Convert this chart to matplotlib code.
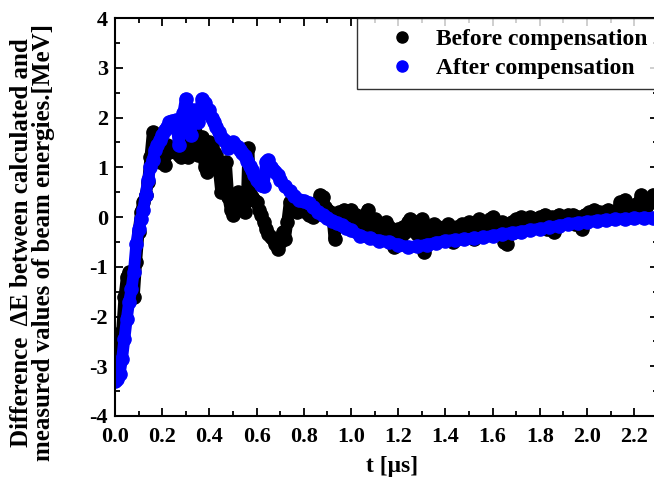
import matplotlib
matplotlib.use('Agg')
import matplotlib.pyplot as plt
from matplotlib.lines import Line2D
from matplotlib.ticker import MultipleLocator

# datos: t en microsegundos, dE en MeV
t_after = [0.00, 0.01, 0.02, 0.03, 0.04, 0.05, 0.06, 0.07, 0.08, 0.09,
           0.10, 0.11, 0.12, 0.13, 0.14, 0.15, 0.16, 0.17, 0.18, 0.19,
           0.20, 0.21, 0.22, 0.23, 0.24, 0.25, 0.26, 0.27, 0.28, 0.29,
           0.30, 0.31, 0.32, 0.33, 0.34, 0.35, 0.36, 0.37, 0.38, 0.39,
           0.40, 0.41, 0.42, 0.43, 0.44, 0.45, 0.46, 0.47, 0.48, 0.49,
           0.50, 0.51, 0.52, 0.53, 0.54, 0.55, 0.56, 0.57, 0.58, 0.59,
           0.60, 0.61, 0.62, 0.63, 0.64, 0.65, 0.66, 0.67, 0.68, 0.69,
           0.70, 0.72, 0.74, 0.76, 0.78, 0.80, 0.82, 0.84, 0.86, 0.88,
           0.90, 0.92, 0.94, 0.96, 0.98, 1.00, 1.04, 1.08, 1.12, 1.16,
           1.20, 1.24, 1.28, 1.32, 1.36, 1.40, 1.44, 1.48, 1.52, 1.56,
           1.60, 1.64, 1.68, 1.72, 1.76, 1.80, 1.84, 1.88, 1.92, 1.96,
           2.00, 2.04, 2.08, 2.12, 2.16, 2.20, 2.24, 2.28, 2.30]
dE_after = [-3.30, -3.25, -3.15, -2.85, -2.45, -2.05, -1.70, -1.45, -1.10, -0.55,
            -0.25, -0.05, 0.15, 0.45, 0.75, 1.00, 1.15, 1.35, 1.45, 1.55,
            1.65, 1.75, 1.80, 1.90, 1.92, 1.80, 1.95, 1.45, 1.95, 2.10,
            2.38, 2.15, 1.65, 2.15, 2.10, 1.90, 2.15, 2.38, 2.30, 2.10,
            2.15, 2.00, 1.90, 1.80, 1.70, 1.60, 1.55, 1.50, 1.38, 1.45,
            1.50, 1.45, 1.40, 1.35, 1.28, 1.22, 1.12, 1.02, 0.95, 0.85,
            0.75, 0.70, 0.65, 0.62, 1.10, 1.15, 1.00, 0.95, 0.90, 0.85,
            0.75, 0.62, 0.52, 0.42, 0.35, 0.33, 0.28, 0.20, 0.10, 0.04,
            -0.02, -0.08, -0.12, -0.17, -0.22, -0.27, -0.38, -0.43, -0.48, -0.50,
            -0.56, -0.60, -0.59, -0.56, -0.52, -0.48, -0.46, -0.45, -0.43, -0.41,
            -0.38, -0.35, -0.32, -0.30, -0.26, -0.24, -0.21, -0.18, -0.14, -0.12,
            -0.10, -0.08, -0.06, -0.05, -0.04, -0.03, -0.02, -0.02, -0.02]

t_before = [0.00, 0.01, 0.02, 0.03, 0.04, 0.05, 0.06, 0.07, 0.08, 0.09,
            0.10, 0.11, 0.12, 0.13, 0.14, 0.15, 0.16, 0.17, 0.18, 0.19,
            0.20, 0.21, 0.22, 0.23, 0.24, 0.25, 0.26, 0.27, 0.28, 0.29,
            0.30, 0.31, 0.32, 0.33, 0.34, 0.35, 0.36, 0.37, 0.38, 0.39,
            0.40, 0.41, 0.42, 0.43, 0.44, 0.45, 0.46, 0.47, 0.48, 0.49,
            0.50, 0.51, 0.52, 0.53, 0.54, 0.55, 0.56, 0.565, 0.57, 0.58,
            0.59, 0.60, 0.61, 0.62, 0.63, 0.64, 0.65, 0.66, 0.67, 0.68,
            0.69, 0.70, 0.71, 0.72, 0.73, 0.74, 0.75, 0.76, 0.77, 0.78,
            0.79, 0.80, 0.81, 0.82, 0.83, 0.84, 0.85, 0.86, 0.87, 0.88,
            0.89, 0.90, 0.91, 0.92, 0.93, 0.94, 0.95, 0.96, 0.97, 0.98,
            0.99, 1.00, 1.01, 1.02, 1.03, 1.04, 1.05, 1.06, 1.07, 1.08,
            1.09, 1.10, 1.11, 1.12, 1.13, 1.14, 1.15, 1.16, 1.17, 1.18,
            1.19, 1.20, 1.21, 1.22, 1.23, 1.24, 1.25, 1.26, 1.27, 1.28,
            1.29, 1.30, 1.31, 1.32, 1.33, 1.34, 1.35, 1.36, 1.37, 1.38,
            1.39, 1.40, 1.41, 1.42, 1.43, 1.44, 1.45, 1.46, 1.47, 1.48,
            1.49, 1.50, 1.51, 1.52, 1.53, 1.54, 1.55, 1.56, 1.57, 1.58,
            1.59, 1.60, 1.61, 1.62, 1.63, 1.64, 1.65, 1.66, 1.67, 1.68,
            1.69, 1.70, 1.71, 1.72, 1.73, 1.74, 1.75, 1.76, 1.77, 1.78,
            1.79, 1.80, 1.81, 1.82, 1.83, 1.84, 1.85, 1.86, 1.87, 1.88,
            1.89, 1.90, 1.91, 1.92, 1.93, 1.94, 1.95, 1.96, 1.97, 1.98,
            1.99, 2.00, 2.01, 2.02, 2.03, 2.04, 2.05, 2.06, 2.07, 2.08,
            2.09, 2.10, 2.11, 2.12, 2.13, 2.14, 2.15, 2.16, 2.17, 2.18,
            2.19, 2.20, 2.21, 2.22, 2.23, 2.24, 2.25, 2.26, 2.27, 2.28,
            2.29, 2.30]
dE_before = [-2.85, -2.70, -2.60, -2.30, -1.60, -1.20, -1.10, -1.30, -1.60, -0.90,
             -0.30, 0.10, 0.30, 0.45, 0.70, 1.20, 1.70, 1.55, 1.40, 1.10,
             1.30, 1.05, 1.45, 1.30, 1.35, 1.40, 1.30, 1.25, 1.20, 1.35,
             1.75, 1.20, 1.30, 1.50, 1.70, 1.25, 1.55, 1.60, 1.00, 0.90,
             1.50, 1.45, 1.30, 1.25, 0.95, 0.50, 0.80, 1.10, 0.40, 0.15,
             0.05, 0.30, 0.50, 0.45, 0.35, 0.10, 0.55, 1.38, 0.90, 0.40,
             0.35, 0.30, 0.15, 0.05, -0.10, -0.25, -0.35, -0.40, -0.45, -0.55,
             -0.65, -0.50, -0.30, -0.45, -0.10, 0.30, 0.20, 0.40, 0.10, 0.20,
             0.15, 0.25, 0.10, 0.05, 0.15, 0.00, 0.25, 0.30, 0.45, 0.40,
             0.20, 0.15, 0.10, 0.05, -0.45, 0.05, 0.10, 0.00, 0.15, 0.10,
             0.05, 0.15, -0.10, 0.05, -0.15, -0.05, -0.20, 0.05, 0.15, -0.10,
             -0.20, -0.05, -0.25, -0.30, -0.15, -0.25, -0.10, -0.20, -0.45, -0.60,
             -0.35, -0.25, -0.40, -0.20, -0.30, -0.10, -0.05, -0.20, -0.10, -0.35,
             -0.20, -0.05, -0.70, -0.40, -0.25, -0.35, -0.15, -0.30, -0.20, -0.35,
             -0.25, -0.40, -0.15, -0.20, -0.50, -0.30, -0.20, -0.35, -0.15, -0.40,
             -0.25, -0.10, -0.30, -0.45, -0.20, -0.05, -0.25, -0.35, -0.15, -0.30,
             -0.05, 0.00, -0.25, -0.15, -0.30, -0.10, -0.50, -0.55, -0.20, -0.10,
             -0.30, -0.05, -0.15, 0.00, -0.20, -0.05, -0.25, 0.00, -0.15, -0.05,
             -0.20, 0.00, -0.10, 0.05, -0.25, -0.05, 0.00, -0.30, -0.10, 0.05,
             -0.05, 0.00, -0.10, 0.05, -0.05, 0.05, -0.15, 0.00, -0.05, -0.25,
             0.05, 0.00, 0.10, 0.05, 0.15, 0.00, 0.10, 0.05, 0.10, 0.00,
             0.15, 0.05, 0.10, 0.05, 0.15, 0.30, 0.20, 0.35, 0.10, 0.20,
             0.15, 0.25, 0.15, 0.30, 0.45, 0.25, 0.20, 0.35, 0.30, 0.45,
             0.35, 0.40]

labels = ['Before compensation', 'After compensation']
colores = ['black', '#0000ff']

plt.rcParams['font.family'] = ['Liberation Serif', 'DejaVu Serif']
plt.rcParams['font.weight'] = 'bold'

fig = plt.figure(figsize=(6.54, 4.87), dpi=100)
ax = fig.add_axes([0.1758, 0.1458, 0.8302, 0.8172])

ax.plot(t_before, dE_before, '-o', color=colores[0], lw=8.5, ms=9.5,
        solid_capstyle='round', solid_joinstyle='round')
ax.plot(t_after, dE_after, '-o', color=colores[1], lw=8.5, ms=9.5,
        solid_capstyle='round', solid_joinstyle='round')

ax.set_xlim(0, 2.3)
ax.set_ylim(-4, 4)
ax.xaxis.set_major_locator(MultipleLocator(0.2))
ax.xaxis.set_minor_locator(MultipleLocator(0.1))
ax.yaxis.set_major_locator(MultipleLocator(1))
ax.yaxis.set_minor_locator(MultipleLocator(0.5))
ax.xaxis.set_major_formatter(plt.FormatStrFormatter('%.1f'))
ax.yaxis.set_major_formatter(plt.FormatStrFormatter('%d'))

ax.tick_params(which='both', direction='in', top=True, right=True, width=1.3)
ax.tick_params(which='major', length=6, labelsize=16, pad=5)
ax.tick_params(axis='x', which='major', pad=8)
ax.tick_params(which='minor', length=3.5)
for s in ax.spines.values():
    s.set_linewidth(1.5)

ax.set_xlabel('t [\u03bcs]', fontsize=17, fontweight='bold')
ax.xaxis.set_label_coords(0.51, -0.1)
ax.set_ylabel('Difference  \u0394E between calculated and\nmeasured values of beam energies.[MeV]',
              fontsize=18, fontweight='bold', linespacing=0.95, ha='center', va='center')
ax.yaxis.set_label_coords(-0.152, 0.436)

handles = [Line2D([], [], ls='none', marker='o', ms=8, color=c) for c in colores]
leg = ax.legend(handles, labels, loc='upper right', fontsize=17, frameon=True,
                fancybox=False, borderaxespad=0, handletextpad=0.0,
                borderpad=0.45, labelspacing=0.3, handlelength=2.9)
leg.get_frame().set_edgecolor('black')
leg.get_frame().set_linewidth(1.0)

plt.savefig('out.png', dpi=100)
plt.close()
